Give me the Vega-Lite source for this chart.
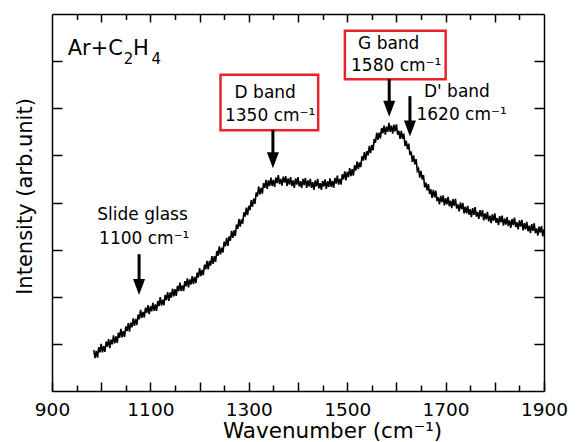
{
  "$schema": "https://vega.github.io/schema/vega-lite/v6.json",
  "width": 492,
  "height": 377,
  "autosize": {"type": "none"},
  "padding": {"left": 52, "top": 14, "right": 35, "bottom": 51},
  "background": "white",
  "view": {"stroke": null},
  "config": {"font": "DejaVu Sans"},
  "datasets": {
    "spec": [
      {"w":985,"i":0.87},{"w":987.5,"i":0.70},{"w":990,"i":0.85},{"w":992.5,"i":0.71},{"w":995,"i":0.93},{"w":997.5,"i":0.82},{"w":1000,"i":1.00},{"w":1002.5,"i":0.82},
      {"w":1005,"i":0.95},{"w":1007.5,"i":0.83},{"w":1010,"i":1.05},{"w":1012.5,"i":0.94},{"w":1015,"i":1.10},{"w":1017.5,"i":0.91},{"w":1020,"i":1.09},{"w":1022.5,"i":0.99},
      {"w":1025,"i":1.18},{"w":1027.5,"i":1.01},{"w":1030,"i":1.16},{"w":1032.5,"i":1.02},{"w":1035,"i":1.24},{"w":1037.5,"i":1.13},{"w":1040,"i":1.32},{"w":1042.5,"i":1.14},
      {"w":1045,"i":1.27},{"w":1047.5,"i":1.15},{"w":1050,"i":1.37},{"w":1052.5,"i":1.27},{"w":1055,"i":1.44},{"w":1057.5,"i":1.26},{"w":1060,"i":1.45},{"w":1062.5,"i":1.35},
      {"w":1065,"i":1.54},{"w":1067.5,"i":1.38},{"w":1070,"i":1.53},{"w":1072.5,"i":1.40},{"w":1075,"i":1.62},{"w":1077.5,"i":1.52},{"w":1080,"i":1.72},{"w":1082.5,"i":1.55},
      {"w":1085,"i":1.68},{"w":1087.5,"i":1.56},{"w":1090,"i":1.77},{"w":1092.5,"i":1.66},{"w":1095,"i":1.82},{"w":1097.5,"i":1.63},{"w":1100,"i":1.80},{"w":1102.5,"i":1.69},
      {"w":1105,"i":1.87},{"w":1107.5,"i":1.70},{"w":1110,"i":1.84},{"w":1112.5,"i":1.70},{"w":1115,"i":1.91},{"w":1117.5,"i":1.80},{"w":1120,"i":1.99},{"w":1122.5,"i":1.81},
      {"w":1125,"i":1.94},{"w":1127.5,"i":1.82},{"w":1130,"i":2.04},{"w":1132.5,"i":1.93},{"w":1135,"i":2.10},{"w":1137.5,"i":1.91},{"w":1140,"i":2.09},{"w":1142.5,"i":1.98},
      {"w":1145,"i":2.17},{"w":1147.5,"i":2.01},{"w":1150,"i":2.16},{"w":1152.5,"i":2.02},{"w":1155,"i":2.23},{"w":1157.5,"i":2.12},{"w":1160,"i":2.30},{"w":1162.5,"i":2.12},
      {"w":1165,"i":2.24},{"w":1167.5,"i":2.12},{"w":1170,"i":2.33},{"w":1172.5,"i":2.22},{"w":1175,"i":2.39},{"w":1177.5,"i":2.20},{"w":1180,"i":2.37},{"w":1182.5,"i":2.26},
      {"w":1185,"i":2.44},{"w":1187.5,"i":2.27},{"w":1190,"i":2.42},{"w":1192.5,"i":2.29},{"w":1195,"i":2.51},{"w":1197.5,"i":2.41},{"w":1200,"i":2.61},{"w":1202.5,"i":2.44},
      {"w":1205,"i":2.57},{"w":1207.5,"i":2.46},{"w":1210,"i":2.68},{"w":1212.5,"i":2.58},{"w":1215,"i":2.76},{"w":1217.5,"i":2.58},{"w":1220,"i":2.76},{"w":1222.5,"i":2.66},
      {"w":1225,"i":2.86},{"w":1227.5,"i":2.70},{"w":1230,"i":2.86},{"w":1232.5,"i":2.74},{"w":1235,"i":2.97},{"w":1237.5,"i":2.87},{"w":1240,"i":3.07},{"w":1242.5,"i":2.90},
      {"w":1245,"i":3.04},{"w":1247.5,"i":2.94},{"w":1250,"i":3.17},{"w":1252.5,"i":3.07},{"w":1255,"i":3.25},{"w":1257.5,"i":3.08},{"w":1260,"i":3.28},{"w":1262.5,"i":3.19},
      {"w":1265,"i":3.40},{"w":1267.5,"i":3.25},{"w":1270,"i":3.41},{"w":1272.5,"i":3.29},{"w":1275,"i":3.53},{"w":1277.5,"i":3.44},{"w":1280,"i":3.65},{"w":1282.5,"i":3.49},
      {"w":1285,"i":3.64},{"w":1287.5,"i":3.55},{"w":1290,"i":3.79},{"w":1292.5,"i":3.70},{"w":1295,"i":3.89},{"w":1297.5,"i":3.73},{"w":1300,"i":3.93},{"w":1302.5,"i":3.84},
      {"w":1305,"i":4.05},{"w":1307.5,"i":3.91},{"w":1310,"i":4.08},{"w":1312.5,"i":3.97},{"w":1315,"i":4.21},{"w":1317.5,"i":4.13},{"w":1320,"i":4.34},{"w":1322.5,"i":4.17},
      {"w":1325,"i":4.31},{"w":1327.5,"i":4.19},{"w":1330,"i":4.41},{"w":1332.5,"i":4.31},{"w":1335,"i":4.48},{"w":1337.5,"i":4.29},{"w":1340,"i":4.47},{"w":1342.5,"i":4.35},
      {"w":1345,"i":4.53},{"w":1347.5,"i":4.35},{"w":1350,"i":4.48},{"w":1352.5,"i":4.33},{"w":1355,"i":4.53},{"w":1357.5,"i":4.41},{"w":1360,"i":4.58},{"w":1362.5,"i":4.39},
      {"w":1365,"i":4.50},{"w":1367.5,"i":4.36},{"w":1370,"i":4.55},{"w":1372.5,"i":4.42},{"w":1375,"i":4.56},{"w":1377.5,"i":4.35},{"w":1380,"i":4.51},{"w":1382.5,"i":4.38},
      {"w":1385,"i":4.54},{"w":1387.5,"i":4.35},{"w":1390,"i":4.47},{"w":1392.5,"i":4.31},{"w":1395,"i":4.51},{"w":1397.5,"i":4.38},{"w":1400,"i":4.54},{"w":1402.5,"i":4.34},
      {"w":1405,"i":4.45},{"w":1407.5,"i":4.31},{"w":1410,"i":4.50},{"w":1412.5,"i":4.37},{"w":1415,"i":4.52},{"w":1417.5,"i":4.31},{"w":1420,"i":4.47},{"w":1422.5,"i":4.34},
      {"w":1425,"i":4.50},{"w":1427.5,"i":4.31},{"w":1430,"i":4.43},{"w":1432.5,"i":4.27},{"w":1435,"i":4.47},{"w":1437.5,"i":4.34},{"w":1440,"i":4.50},{"w":1442.5,"i":4.30},
      {"w":1445,"i":4.41},{"w":1447.5,"i":4.27},{"w":1450,"i":4.46},{"w":1452.5,"i":4.34},{"w":1455,"i":4.49},{"w":1457.5,"i":4.29},{"w":1460,"i":4.45},{"w":1462.5,"i":4.33},
      {"w":1465,"i":4.51},{"w":1467.5,"i":4.33},{"w":1470,"i":4.46},{"w":1472.5,"i":4.31},{"w":1475,"i":4.52},{"w":1477.5,"i":4.40},{"w":1480,"i":4.57},{"w":1482.5,"i":4.38},
      {"w":1485,"i":4.50},{"w":1487.5,"i":4.38},{"w":1490,"i":4.60},{"w":1492.5,"i":4.49},{"w":1495,"i":4.66},{"w":1497.5,"i":4.47},{"w":1500,"i":4.65},{"w":1502.5,"i":4.54},
      {"w":1505,"i":4.73},{"w":1507.5,"i":4.56},{"w":1510,"i":4.71},{"w":1512.5,"i":4.57},{"w":1515,"i":4.79},{"w":1517.5,"i":4.68},{"w":1520,"i":4.87},{"w":1522.5,"i":4.71},
      {"w":1525,"i":4.85},{"w":1527.5,"i":4.75},{"w":1530,"i":4.98},{"w":1532.5,"i":4.89},{"w":1535,"i":5.07},{"w":1537.5,"i":4.90},{"w":1540,"i":5.09},{"w":1542.5,"i":5.00},
      {"w":1545,"i":5.20},{"w":1547.5,"i":5.05},{"w":1550,"i":5.22},{"w":1552.5,"i":5.11},{"w":1555,"i":5.35},{"w":1557.5,"i":5.27},{"w":1560,"i":5.48},{"w":1562.5,"i":5.33},
      {"w":1565,"i":5.48},{"w":1567.5,"i":5.36},{"w":1570,"i":5.58},{"w":1572.5,"i":5.47},{"w":1575,"i":5.63},{"w":1577.5,"i":5.44},{"w":1580,"i":5.61},{"w":1582.5,"i":5.50},
      {"w":1585,"i":5.69},{"w":1587.5,"i":5.50},{"w":1590,"i":5.63},{"w":1592.5,"i":5.46},{"w":1595,"i":5.65},{"w":1597.5,"i":5.51},{"w":1600,"i":5.66},{"w":1602.5,"i":5.44},
      {"w":1605,"i":5.52},{"w":1607.5,"i":5.35},{"w":1610,"i":5.52},{"w":1612.5,"i":5.35},{"w":1615,"i":5.46},{"w":1617.5,"i":5.20},{"w":1620,"i":5.31},{"w":1622.5,"i":5.13},
      {"w":1625,"i":5.25},{"w":1627.5,"i":5.01},{"w":1630,"i":5.08},{"w":1632.5,"i":4.86},{"w":1635,"i":5.00},{"w":1637.5,"i":4.81},{"w":1640,"i":4.92},{"w":1642.5,"i":4.67},
      {"w":1645,"i":4.72},{"w":1647.5,"i":4.53},{"w":1650,"i":4.67},{"w":1652.5,"i":4.49},{"w":1655,"i":4.58},{"w":1657.5,"i":4.32},{"w":1660,"i":4.42},{"w":1662.5,"i":4.26},
      {"w":1665,"i":4.39},{"w":1667.5,"i":4.18},{"w":1670,"i":4.28},{"w":1672.5,"i":4.10},{"w":1675,"i":4.27},{"w":1677.5,"i":4.11},{"w":1680,"i":4.25},{"w":1682.5,"i":4.03},
      {"w":1685,"i":4.11},{"w":1687.5,"i":3.96},{"w":1690,"i":4.14},{"w":1692.5,"i":4.01},{"w":1695,"i":4.15},{"w":1697.5,"i":3.94},{"w":1700,"i":4.09},{"w":1702.5,"i":3.96},
      {"w":1705,"i":4.12},{"w":1707.5,"i":3.92},{"w":1710,"i":4.04},{"w":1712.5,"i":3.88},{"w":1715,"i":4.07},{"w":1717.5,"i":3.93},{"w":1720,"i":4.08},{"w":1722.5,"i":3.87},
      {"w":1725,"i":3.96},{"w":1727.5,"i":3.81},{"w":1730,"i":4.00},{"w":1732.5,"i":3.86},{"w":1735,"i":3.99},{"w":1737.5,"i":3.77},{"w":1740,"i":3.91},{"w":1742.5,"i":3.77},
      {"w":1745,"i":3.93},{"w":1747.5,"i":3.74},{"w":1750,"i":3.86},{"w":1752.5,"i":3.69},{"w":1755,"i":3.88},{"w":1757.5,"i":3.74},{"w":1760,"i":3.90},{"w":1762.5,"i":3.70},
      {"w":1765,"i":3.80},{"w":1767.5,"i":3.65},{"w":1770,"i":3.84},{"w":1772.5,"i":3.70},{"w":1775,"i":3.84},{"w":1777.5,"i":3.62},{"w":1780,"i":3.77},{"w":1782.5,"i":3.64},
      {"w":1785,"i":3.80},{"w":1787.5,"i":3.60},{"w":1790,"i":3.72},{"w":1792.5,"i":3.56},{"w":1795,"i":3.75},{"w":1797.5,"i":3.61},{"w":1800,"i":3.77},{"w":1802.5,"i":3.57},
      {"w":1805,"i":3.67},{"w":1807.5,"i":3.52},{"w":1810,"i":3.71},{"w":1812.5,"i":3.58},{"w":1815,"i":3.72},{"w":1817.5,"i":3.51},{"w":1820,"i":3.66},{"w":1822.5,"i":3.53},
      {"w":1825,"i":3.69},{"w":1827.5,"i":3.50},{"w":1830,"i":3.62},{"w":1832.5,"i":3.46},{"w":1835,"i":3.65},{"w":1837.5,"i":3.52},{"w":1840,"i":3.68},{"w":1842.5,"i":3.48},
      {"w":1845,"i":3.58},{"w":1847.5,"i":3.43},{"w":1850,"i":3.62},{"w":1852.5,"i":3.49},{"w":1855,"i":3.63},{"w":1857.5,"i":3.41},{"w":1860,"i":3.56},{"w":1862.5,"i":3.43},
      {"w":1865,"i":3.59},{"w":1867.5,"i":3.39},{"w":1870,"i":3.51},{"w":1872.5,"i":3.35},{"w":1875,"i":3.54},{"w":1877.5,"i":3.40},{"w":1880,"i":3.56},{"w":1882.5,"i":3.35},
      {"w":1885,"i":3.45},{"w":1887.5,"i":3.30},{"w":1890,"i":3.49},{"w":1892.5,"i":3.36},{"w":1895,"i":3.50},{"w":1897.5,"i":3.28},{"w":1900,"i":3.43}
    ],
    "labels": [
      {"w":1333.4,"y":6.214,"t":"D band"},
      {"w":1343.4,"y":5.732,"t":"1350 cm⁻¹"},
      {"w":1584.4,"y":7.255,"t":"G band"},
      {"w":1599.6,"y":6.794,"t":"1580 cm⁻¹"},
      {"w":1723,"y":6.236,"t":"D' band"},
      {"w":1732.6,"y":5.747,"t":"1620 cm⁻¹"},
      {"w":1084,"y":3.639,"t":"Slide glass"},
      {"w":1087.5,"y":3.115,"t":"1100 cm⁻¹"}
    ],
    "boxes": [
      {"w":1242.5,"w2":1441,"y":6.71,"y2":5.535},
      {"w":1495.3,"w2":1700.1,"y":7.643,"y2":6.618}
    ],
    "arrows": [
      {"w":1349,"y":5.535,"tip":4.898},
      {"w":1585.4,"y":6.618,"tip":5.992},
      {"w":1627.5,"y":6.257,"tip":5.571},
      {"w":1077,"y":2.903,"tip":2.208}
    ],
    "sampleMain": [
      {"w":931.9,"y":7.127,"t":"Ar+C"},
      {"w":1064.7,"y":7.127,"t":"H"}
    ],
    "sampleSub": [
      {"w":1045.8,"y":6.936,"t":"2"},
      {"w":1102.2,"y":6.936,"t":"4"}
    ]
  },
  "layer": [
    {
      "data": {"name": "spec"},
      "mark": {"type": "line", "color": "black", "strokeWidth": 1.6},
      "encoding": {
        "x": {"field": "w", "type": "quantitative",
          "scale": {"domain": [900, 1900], "nice": false, "zero": false},
          "axis": {"orient": "bottom", "values": [900,1000,1100,1200,1300,1400,1500,1600,1700,1800,1900],
            "grid": false, "tickSize": -9, "tickWidth": 1.5, "tickColor": "black",
            "domainColor": "black", "domainWidth": 1.5, "format": "d",
            "labelExpr": "datum.value % 200 == 100 ? datum.label : ''",
            "labelFont": "DejaVu Sans", "labelFontSize": 18.5, "labelColor": "black",
            "labelPadding": 18.4, "labelFlush": false, "labelOverlap": false, "labelBaseline": "top",
            "title": "Wavenumber (cm⁻¹)", "titleFont": "DejaVu Sans", "titleFontSize": 21.5,
            "titleFontWeight": "normal", "titleColor": "black",
            "titleX": 280, "titleY": 46.5, "titleBaseline": "alphabetic", "titleAlign": "center"}},
        "y": {"field": "i", "type": "quantitative",
          "scale": {"domain": [0, 8], "nice": false, "zero": false},
          "axis": {"orient": "left", "values": [1,2,3,4,5,6,7], "grid": false,
            "tickSize": -10, "tickWidth": 1.5, "tickColor": "black",
            "domainColor": "black", "domainWidth": 1.5, "labels": false,
            "title": "Intensity (arb.unit)", "titleFont": "DejaVu Sans", "titleFontSize": 21,
            "titleFontWeight": "normal", "titleColor": "black",
            "titleX": -20.6, "titleY": 182, "titleBaseline": "alphabetic", "titleAlign": "center", "titleAngle": -90}}
      }
    },
    {
      "data": {"name": "spec"},
      "mark": {"type": "point", "opacity": 0},
      "encoding": {
        "x": {"field": "w", "type": "quantitative",
          "scale": {"domain": [900, 1900], "nice": false, "zero": false},
          "axis": {"orient": "bottom", "values": [950,1050,1150,1250,1350,1450,1550,1650,1750,1850],
            "grid": false, "tickSize": -6, "tickWidth": 1.5, "tickColor": "black",
            "domain": false, "labels": false, "title": null}},
        "y": {"field": "i", "type": "quantitative",
          "scale": {"domain": [0, 8], "nice": false, "zero": false},
          "axis": {"orient": "right", "values": [1,2,3,4,5,6,7], "grid": false,
            "tickSize": -10, "tickWidth": 1.5, "tickColor": "black",
            "domainColor": "black", "domainWidth": 1.5, "labels": false, "title": null}}
      }
    },
    {
      "data": {"name": "spec"},
      "mark": {"type": "point", "opacity": 0},
      "encoding": {
        "x": {"field": "w", "type": "quantitative",
          "scale": {"domain": [900, 1900], "nice": false, "zero": false},
          "axis": {"orient": "top", "values": [1000,1100,1200,1300,1400,1500,1600,1700,1800],
            "grid": false, "tickSize": -8, "tickWidth": 1.5, "tickColor": "black",
            "domainColor": "black", "domainWidth": 1.5, "labels": false, "title": null}},
        "y": {"field": "i", "type": "quantitative", "scale": {"domain": [0, 8], "nice": false, "zero": false}, "axis": null}
      }
    },
    {
      "data": {"name": "spec"},
      "mark": {"type": "point", "opacity": 0},
      "encoding": {
        "x": {"field": "w", "type": "quantitative",
          "scale": {"domain": [900, 1900], "nice": false, "zero": false},
          "axis": {"orient": "top", "values": [950,1050,1150,1250,1350,1450,1550,1650,1750,1850],
            "grid": false, "tickSize": -5.5, "tickWidth": 1.5, "tickColor": "black",
            "domain": false, "labels": false, "title": null}},
        "y": {"field": "i", "type": "quantitative", "scale": {"domain": [0, 8], "nice": false, "zero": false}, "axis": null}
      }
    },
    {
      "data": {"name": "boxes"},
      "mark": {"type": "rect", "fillOpacity": 0, "stroke": "#e8232a", "strokeWidth": 2.5},
      "encoding": {
        "x": {"field": "w", "type": "quantitative", "axis": null},
        "x2": {"field": "w2"},
        "y": {"field": "y", "type": "quantitative", "axis": null},
        "y2": {"field": "y2"}
      }
    },
    {
      "data": {"name": "arrows"},
      "mark": {"type": "rule", "color": "black", "strokeWidth": 3},
      "encoding": {
        "x": {"field": "w", "type": "quantitative", "axis": null},
        "y": {"field": "y", "type": "quantitative", "axis": null},
        "y2": {"field": "tip"}
      }
    },
    {
      "data": {"name": "arrows"},
      "mark": {"type": "point", "shape": "M-0.75,-1L0.75,-1L0,1Z", "size": 256, "filled": true, "color": "black", "opacity": 1, "strokeWidth": 0},
      "encoding": {
        "x": {"field": "w", "type": "quantitative", "axis": null},
        "y": {"field": "tip", "type": "quantitative", "axis": null}
      }
    },
    {
      "data": {"name": "labels"},
      "mark": {"type": "text", "font": "DejaVu Sans", "fontSize": 17, "color": "black", "align": "center", "baseline": "alphabetic"},
      "encoding": {
        "x": {"field": "w", "type": "quantitative", "axis": null},
        "y": {"field": "y", "type": "quantitative", "axis": null},
        "text": {"field": "t"}
      }
    },
    {
      "data": {"name": "sampleMain"},
      "mark": {"type": "text", "font": "DejaVu Sans", "fontSize": 21, "color": "black", "align": "left", "baseline": "alphabetic"},
      "encoding": {
        "x": {"field": "w", "type": "quantitative", "axis": null},
        "y": {"field": "y", "type": "quantitative", "axis": null},
        "text": {"field": "t"}
      }
    },
    {
      "data": {"name": "sampleSub"},
      "mark": {"type": "text", "font": "DejaVu Sans", "fontSize": 15, "color": "black", "align": "left", "baseline": "alphabetic"},
      "encoding": {
        "x": {"field": "w", "type": "quantitative", "axis": null},
        "y": {"field": "y", "type": "quantitative", "axis": null},
        "text": {"field": "t"}
      }
    }
  ],
  "resolve": {"axis": {"x": "independent", "y": "independent"}}
}
